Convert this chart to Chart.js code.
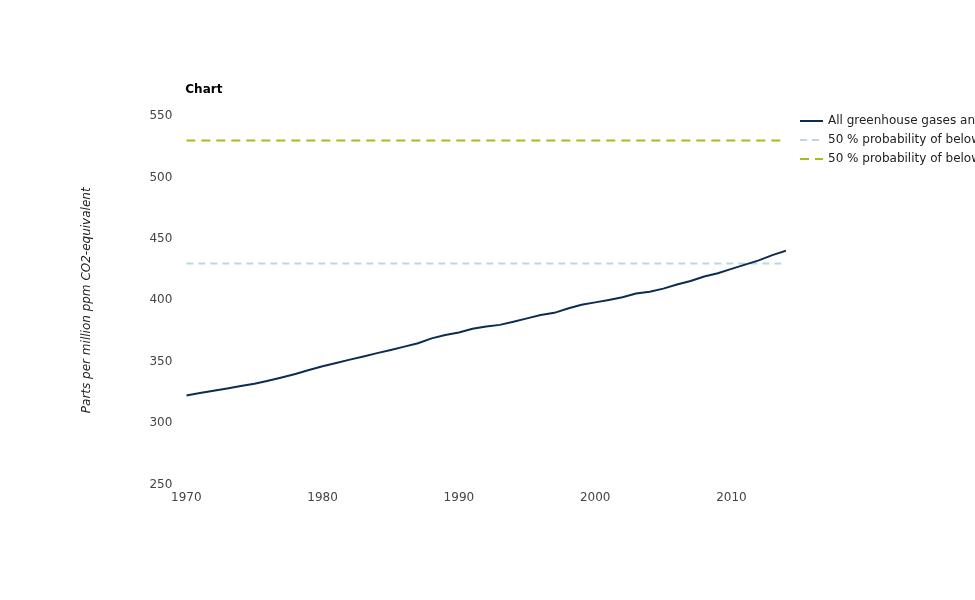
<!DOCTYPE html>
<html>
<head>
<meta charset="utf-8">
<script src="https://cdn.jsdelivr.net/npm/chart.js@4/dist/chart.umd.min.js"></script>
<style>
  html, body { margin: 0; padding: 0; background: #fff; }
  #wrap { width: 975px; height: 600px; }
</style>
</head>
<body>
<div id="wrap"><canvas id="myChart"></canvas></div>
<script>
// Years and concentrations (ppm CO2-equivalent)
const years = [];
for (let y = 1970; y <= 2014; y++) years.push(y);

const allGases = [
    322.5, 324.5, 326.3, 328.2, 330.2, 332.0, 334.5, 337.2, 340.0, 343.3,
    346.3, 349.0, 351.7, 354.3, 357.0, 359.6, 362.3, 365.0, 369.0, 371.8,
    373.8, 376.8, 378.6, 380.0, 382.6, 385.3, 388.0, 389.8, 393.3, 396.3,
    398.3, 400.3, 402.5, 405.5, 407.0, 409.5, 412.8, 415.7, 419.3, 422.0,
    425.6, 429.0, 432.5, 436.8, 440.3
];
const level15 = years.map(() => 430);   // 50 % probability of below 1.5 °C
const level2 = years.map(() => 530);    // 50 % probability of below 2 °C

const xTicks = [1970, 1980, 1990, 2000, 2010];
const yTicks = [250, 300, 350, 400, 450, 500, 550];

const labels = [
    'All greenhouse gases and aerosols',
    '50 % probability of below 1.5 °C',
    '50 % probability of below 2 °C'
];

const toPoints = vals => vals.map((v, i) => ({ x: years[i], y: v }));

// title + legend drawn next to the plot area, legend gets cut by the canvas edge
const sidePlugin = {
    id: 'side',
    afterDraw(chart) {
        const ctx = chart.ctx;
        const area = chart.chartArea;
        ctx.save();
        ctx.fillStyle = '#000';
        ctx.font = 'bold 12px "DejaVu Sans"';
        ctx.textBaseline = 'middle';
        ctx.textAlign = 'left';
        ctx.fillText('Chart', area.left - 1, area.top - 26);

        ctx.font = '12px "DejaVu Sans"';
        chart.data.datasets.forEach((ds, i) => {
            const y = area.top + 5 + i * 19;
            const x = area.right + 14;
            ctx.strokeStyle = ds.borderColor;
            ctx.lineWidth = 2;
            ctx.setLineDash(ds.borderDash || []);
            ctx.beginPath();
            ctx.moveTo(x, y);
            ctx.lineTo(x + 23, y);
            ctx.stroke();
            ctx.setLineDash([]);
            ctx.fillStyle = '#222';
            ctx.fillText(ds.label, x + 28, y);
        });
        ctx.restore();
    }
};

const ctx = document.getElementById('myChart');
new Chart(ctx, {
    type: 'line',
    data: {
        datasets: [{
            label: labels[0],
            data: toPoints(allGases),
            borderColor: '#0d2c52',
            borderWidth: 2,
            pointRadius: 0,
            tension: 0,
            order: 0
        }, {
            label: labels[1],
            data: toPoints(level15),
            borderColor: '#bcd8e4',
            borderWidth: 2,
            borderDash: [7, 5],
            pointRadius: 0,
            order: 1
        }, {
            label: labels[2],
            data: toPoints(level2),
            borderColor: '#a9b920',
            borderWidth: 2,
            borderDash: [9, 6],
            pointRadius: 0,
            order: 1
        }]
    },
    options: {
        responsive: true,
        maintainAspectRatio: false,
        animation: false,
        layout: {
            padding: { left: 70, right: 189, top: 116, bottom: 97 }
        },
        scales: {
            x: {
                type: 'linear',
                min: 1970,
                max: 2014,
                grid: { display: false },
                border: { display: false },
                afterBuildTicks: axis => { axis.ticks = xTicks.map(v => ({ value: v })); },
                ticks: {
                    padding: -2,
                    maxRotation: 0,
                    color: '#444',
                    font: { family: 'DejaVu Sans', size: 12 },
                    callback: v => String(v)
                }
            },
            y: {
                min: 250,
                max: 550,
                grid: { display: false },
                border: { display: false },
                afterBuildTicks: axis => { axis.ticks = yTicks.map(v => ({ value: v })); },
                ticks: {
                    padding: 6,
                    color: '#444',
                    font: { family: 'DejaVu Sans', size: 12 }
                },
                title: {
                    display: true,
                    text: 'Parts per million ppm CO2-equivalent',
                    color: '#222',
                    padding: { top: 10, bottom: 49 },
                    font: { family: 'DejaVu Sans', size: 12, style: 'italic' }
                }
            }
        },
        plugins: {
            legend: { display: false },
            title: { display: false },
            tooltip: { enabled: false }
        }
    },
    plugins: [sidePlugin]
});
</script>
</body>
</html>
